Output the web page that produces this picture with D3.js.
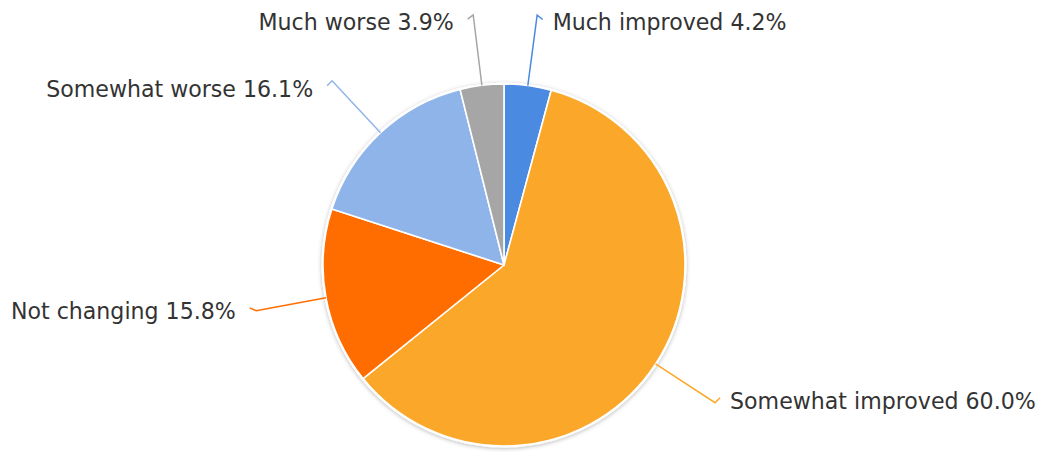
<!DOCTYPE html>
<html>
<head>
<meta charset="utf-8">
<script src="https://cdn.jsdelivr.net/npm/d3@7"></script>
<style>
  html, body { margin: 0; padding: 0; background: #ffffff; }
  svg { display: block; }
  text { font-family: "DejaVu Sans", sans-serif; }
</style>
</head>
<body>
<svg id="chart" width="1042" height="452"></svg>
<script>
// Survey responses, clockwise from 12 o'clock
const categories = ["Much improved", "Somewhat improved", "Not changing", "Somewhat worse", "Much worse"];
const shares = [4.2, 60.0, 15.8, 16.1, 3.9];
const colors = ["#4a8ae0", "#fba72a", "#ff6d00", "#8fb4ea", "#a6a6a6"];

const W = 1042, H = 452;
const cx = 504, cy = 265, radius = 181;
const leaderOuter = 252;

const svg = d3.select("#chart");

const defs = svg.append("defs");
const shadow = defs.append("filter").attr("id", "pieShadow")
  .attr("x", "-10%").attr("y", "-10%").attr("width", "120%").attr("height", "120%");
shadow.append("feDropShadow")
  .attr("dx", 0).attr("dy", 1).attr("stdDeviation", 2.2)
  .attr("flood-color", "#000").attr("flood-opacity", 0.28);

const data = categories.map((c, i) => ({ label: c, value: shares[i], color: colors[i] }));

const pie = d3.pie().value(d => d.value).sort(null);
const arcs = pie(data);
const arc = d3.arc().innerRadius(0).outerRadius(radius);

const g = svg.append("g").attr("transform", `translate(${cx},${cy})`);

// white backing disc with a soft shadow
g.append("circle").attr("r", radius + 1.5).attr("fill", "#fff").attr("filter", "url(#pieShadow)");

g.selectAll("path.slice")
  .data(arcs)
  .join("path")
  .attr("class", "slice")
  .attr("d", arc)
  .attr("fill", d => d.data.color)
  .attr("stroke", "#fff")
  .attr("stroke-width", 1.6)
  .attr("stroke-linejoin", "round");

// leader lines with a small hook and labels
const fmt = d3.format(".1f");
arcs.forEach(d => {
  const a = (d.startAngle + d.endAngle) / 2;
  const ux = Math.sin(a), uy = -Math.cos(a);
  const side = ux >= 0 ? 1 : -1;
  const p0 = [ux * radius, uy * radius];
  const p1 = [ux * leaderOuter, uy * leaderOuter];
  let hx = -ux + side * 1.4, hy = -uy;
  const hl = Math.hypot(hx, hy);
  hx = hx / hl * 7; hy = hy / hl * 7;
  const p2 = [p1[0] + hx, p1[1] + hy];

  g.append("path")
    .attr("d", d3.line()([p0, p1, p2]))
    .attr("fill", "none")
    .attr("stroke", d.data.color)
    .attr("stroke-width", 1.5);

  const gap = side > 0 ? 10 : 14;
  g.append("text")
    .attr("x", p2[0] + side * gap)
    .attr("y", p2[1] + 3)
    .attr("dy", "0.36em")
    .attr("text-anchor", side > 0 ? "start" : "end")
    .attr("font-size", 22.1)
    .attr("fill", "#333333")
    .text(`${d.data.label} ${fmt(d.data.value)}%`);
});
</script>
</body>
</html>
